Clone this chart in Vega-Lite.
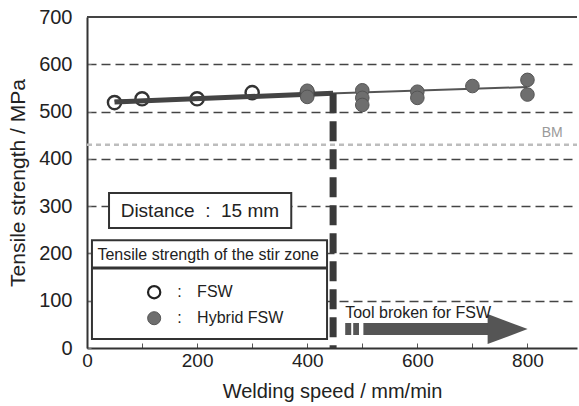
{
  "$schema": "https://vega.github.io/schema/vega-lite/v6.json",
  "width": 490,
  "height": 331,
  "autosize": {"type": "none"},
  "padding": {"left": 87, "top": 17, "right": 2, "bottom": 58},
  "config": {"font": "Liberation Sans", "view": {"stroke": null}},
  "datasets": {
    "points": [
      {"speed": 50, "strength": 519, "process": "FSW"},
      {"speed": 100, "strength": 527, "process": "FSW"},
      {"speed": 200, "strength": 527, "process": "FSW"},
      {"speed": 300, "strength": 540, "process": "FSW"},
      {"speed": 400, "strength": 539, "process": "FSW"},
      {"speed": 400, "strength": 544, "process": "Hybrid FSW"},
      {"speed": 400, "strength": 531, "process": "Hybrid FSW"},
      {"speed": 500, "strength": 545, "process": "Hybrid FSW"},
      {"speed": 500, "strength": 529, "process": "Hybrid FSW"},
      {"speed": 500, "strength": 514, "process": "Hybrid FSW"},
      {"speed": 600, "strength": 542, "process": "Hybrid FSW"},
      {"speed": 600, "strength": 529, "process": "Hybrid FSW"},
      {"speed": 700, "strength": 554, "process": "Hybrid FSW"},
      {"speed": 800, "strength": 567, "process": "Hybrid FSW"},
      {"speed": 800, "strength": 536, "process": "Hybrid FSW"}
    ],
    "fits": [
      {"speed": 50, "strength": 520, "series": "FSW"},
      {"speed": 447, "strength": 539, "series": "FSW"},
      {"speed": 50, "strength": 523, "series": "Hybrid"},
      {"speed": 800, "strength": 552, "series": "Hybrid"}
    ],
    "boxes": [
      {"x": 40, "x2": 371, "y": 328, "y2": 254},
      {"x": 9, "x2": 436, "y": 228, "y2": 19}
    ],
    "hrules": [
      {"x": 0, "x2": 890, "y": 700, "kind": "frame"},
      {"x": 9, "x2": 436, "y": 169, "kind": "sep"},
      {"x": 0, "x2": 890, "y": 430, "kind": "bm"},
      {"x": 502, "x2": 732, "y": 40, "kind": "arrow"},
      {"x": 469, "x2": 494, "y": 40, "kind": "tail"}
    ],
    "vrule": [{"x": 447, "y": 539, "y2": 0}],
    "head": [{"x": 764, "y": 40}],
    "legendpts": [
      {"x": 122, "y": 118, "process": "FSW"},
      {"x": 122, "y": 63, "process": "Hybrid FSW"}
    ],
    "texts": [
      {"x": 205, "y": 290, "label": "Distance\u00a0\u00a0:\u00a0\u00a015 mm", "role": "big"},
      {"x": 220, "y": 197, "label": "Tensile strength of the stir zone", "role": "mid"},
      {"x": 164, "y": 118, "label": ":", "role": "leg"},
      {"x": 200, "y": 118, "label": "FSW", "role": "leg"},
      {"x": 164, "y": 63, "label": ":", "role": "leg"},
      {"x": 200, "y": 63, "label": "Hybrid FSW", "role": "leg"},
      {"x": 469, "y": 74, "label": "Tool broken for FSW", "role": "leg"},
      {"x": 845, "y": 455, "label": "BM", "role": "bm"}
    ]
  },
  "layer": [
    {
      "data": {"name": "hrules"},
      "transform": [{"filter": "datum.kind === 'bm'"}],
      "mark": {"type": "rule", "color": "#bdbdbd", "strokeWidth": 2.5, "strokeDash": [5, 4]},
      "encoding": {
        "x": {"field": "x", "type": "quantitative", "scale": {"domain": [0, 890], "nice": false, "zero": false},
          "axis": {"title": "Welding speed / mm/min", "values": [0, 100, 200, 300, 400, 500, 600, 700, 800],
            "labelExpr": "datum.value % 200 === 0 ? datum.label : ''", "grid": false,
            "tickSize": -5, "tickColor": "#555", "labelPadding": 8, "labelFontSize": 19, "labelColor": "#222",
            "titleFontSize": 20, "titleFontWeight": "normal", "titleColor": "#222", "titlePadding": 11,
            "domainColor": "#333", "domainWidth": 2, "labelFlush": false}},
        "x2": {"field": "x2"},
        "y": {"field": "y", "type": "quantitative", "scale": {"domain": [0, 700], "nice": false},
          "axis": {"title": "Tensile strength / MPa", "values": [0, 50, 100, 150, 200, 250, 300, 350, 400, 450, 500, 550, 600, 650, 700],
            "labelExpr": "datum.value % 100 === 0 ? datum.label : ''", "grid": true, "gridDash": [9, 5], "gridColor": "#444", "gridWidth": 1.3,
            "gridOpacity": {"condition": {"test": "datum.value % 100 !== 0 || datum.value === 0 || datum.value === 700", "value": 0}, "value": 1},
            "tickSize": -4, "tickColor": "#777", "labelPadding": 19, "labelFontSize": 20, "labelColor": "#222",
            "titleFontSize": 21, "titleFontWeight": "normal", "titleColor": "#222", "titlePadding": 10,
            "domainColor": "#333", "domainWidth": 2}}
      }
    },
    {
      "data": {"name": "boxes"},
      "mark": {"type": "rect", "fill": "white", "stroke": "#333", "strokeWidth": 2},
      "encoding": {
        "x": {"field": "x", "type": "quantitative"}, "x2": {"field": "x2"},
        "y": {"field": "y", "type": "quantitative"}, "y2": {"field": "y2"}
      }
    },
    {
      "data": {"name": "hrules"},
      "transform": [{"filter": "datum.kind === 'sep'"}],
      "mark": {"type": "rule", "color": "#333", "strokeWidth": 3},
      "encoding": {"x": {"field": "x", "type": "quantitative"}, "x2": {"field": "x2"}, "y": {"field": "y", "type": "quantitative"}}
    },
    {
      "data": {"name": "hrules"},
      "transform": [{"filter": "datum.kind === 'frame'"}],
      "mark": {"type": "rule", "color": "#444", "strokeWidth": 2},
      "encoding": {"x": {"field": "x", "type": "quantitative"}, "x2": {"field": "x2"}, "y": {"field": "y", "type": "quantitative"}}
    },
    {
      "data": {"name": "fits"},
      "transform": [{"filter": "datum.series === 'Hybrid'"}],
      "mark": {"type": "line", "color": "#555", "strokeWidth": 2},
      "encoding": {"x": {"field": "speed", "type": "quantitative"}, "y": {"field": "strength", "type": "quantitative"}}
    },
    {
      "data": {"name": "points"},
      "transform": [{"filter": "datum.process === 'FSW'"}],
      "mark": {"type": "point", "shape": "circle", "filled": false, "stroke": "#333", "strokeWidth": 2.4, "size": 175, "opacity": 1},
      "encoding": {"x": {"field": "speed", "type": "quantitative"}, "y": {"field": "strength", "type": "quantitative"}}
    },
    {
      "data": {"name": "fits"},
      "transform": [{"filter": "datum.series === 'FSW'"}],
      "mark": {"type": "line", "color": "#444", "strokeWidth": 5},
      "encoding": {"x": {"field": "speed", "type": "quantitative"}, "y": {"field": "strength", "type": "quantitative"}}
    },
    {
      "data": {"name": "points"},
      "transform": [{"filter": "datum.process === 'Hybrid FSW'"}],
      "mark": {"type": "point", "shape": "circle", "filled": true, "fill": "#6e6e6e", "stroke": "#555", "strokeWidth": 1, "size": 185, "opacity": 1},
      "encoding": {"x": {"field": "speed", "type": "quantitative"}, "y": {"field": "strength", "type": "quantitative"}}
    },
    {
      "data": {"name": "vrule"},
      "mark": {"type": "rule", "color": "#3a3a3a", "strokeWidth": 7, "strokeDash": [20, 8]},
      "encoding": {"x": {"field": "x", "type": "quantitative"}, "y": {"field": "y", "type": "quantitative"}, "y2": {"field": "y2"}}
    },
    {
      "data": {"name": "hrules"},
      "transform": [{"filter": "datum.kind === 'arrow'"}],
      "mark": {"type": "rule", "color": "#555", "strokeWidth": 12},
      "encoding": {"x": {"field": "x", "type": "quantitative"}, "x2": {"field": "x2"}, "y": {"field": "y", "type": "quantitative"}}
    },
    {
      "data": {"name": "hrules"},
      "transform": [{"filter": "datum.kind === 'tail'"}],
      "mark": {"type": "rule", "color": "#555", "strokeWidth": 12, "strokeDash": [6, 2]},
      "encoding": {"x": {"field": "x", "type": "quantitative"}, "x2": {"field": "x2"}, "y": {"field": "y", "type": "quantitative"}}
    },
    {
      "data": {"name": "head"},
      "mark": {"type": "point", "shape": "M-1,-0.75L1,0L-1,0.75Z", "filled": true, "fill": "#555", "strokeWidth": 0, "size": 1600, "opacity": 1},
      "encoding": {"x": {"field": "x", "type": "quantitative"}, "y": {"field": "y", "type": "quantitative"}}
    },
    {
      "data": {"name": "legendpts"},
      "transform": [{"filter": "datum.process === 'FSW'"}],
      "mark": {"type": "point", "shape": "circle", "filled": false, "stroke": "#222", "strokeWidth": 2.2, "size": 150, "opacity": 1},
      "encoding": {"x": {"field": "x", "type": "quantitative"}, "y": {"field": "y", "type": "quantitative"}}
    },
    {
      "data": {"name": "legendpts"},
      "transform": [{"filter": "datum.process === 'Hybrid FSW'"}],
      "mark": {"type": "point", "shape": "circle", "filled": true, "fill": "#6e6e6e", "stroke": "#555", "strokeWidth": 1, "size": 170, "opacity": 1},
      "encoding": {"x": {"field": "x", "type": "quantitative"}, "y": {"field": "y", "type": "quantitative"}}
    },
    {
      "data": {"name": "texts"},
      "transform": [{"filter": "datum.role === 'big'"}],
      "mark": {"type": "text", "fontSize": 19, "color": "#222", "align": "center", "baseline": "middle"},
      "encoding": {"x": {"field": "x", "type": "quantitative"}, "y": {"field": "y", "type": "quantitative"}, "text": {"field": "label"}}
    },
    {
      "data": {"name": "texts"},
      "transform": [{"filter": "datum.role === 'mid'"}],
      "mark": {"type": "text", "fontSize": 16, "color": "#222", "align": "center", "baseline": "middle"},
      "encoding": {"x": {"field": "x", "type": "quantitative"}, "y": {"field": "y", "type": "quantitative"}, "text": {"field": "label"}}
    },
    {
      "data": {"name": "texts"},
      "transform": [{"filter": "datum.role === 'leg'"}],
      "mark": {"type": "text", "fontSize": 16, "color": "#222", "align": "left", "baseline": "middle"},
      "encoding": {"x": {"field": "x", "type": "quantitative"}, "y": {"field": "y", "type": "quantitative"}, "text": {"field": "label"}}
    },
    {
      "data": {"name": "texts"},
      "transform": [{"filter": "datum.role === 'bm'"}],
      "mark": {"type": "text", "fontSize": 14, "color": "#9a9a9a", "align": "center", "baseline": "middle"},
      "encoding": {"x": {"field": "x", "type": "quantitative"}, "y": {"field": "y", "type": "quantitative"}, "text": {"field": "label"}}
    }
  ]
}
